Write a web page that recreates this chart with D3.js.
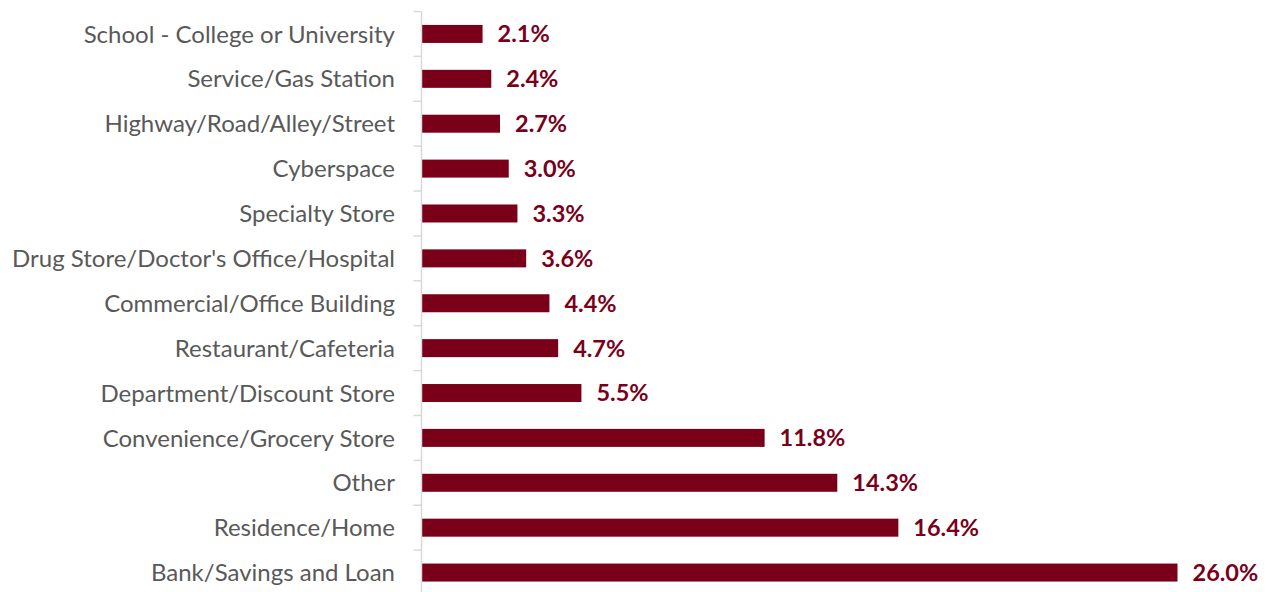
<!DOCTYPE html>
<html>
<head>
<meta charset="utf-8">
<script src="https://cdn.jsdelivr.net/npm/d3@7"></script>
<style>
  html, body { margin: 0; padding: 0; background: #fff; }
  svg { display: block; }
</style>
</head>
<body>
<svg id="chart" width="1267" height="592"></svg>
<script>
"use strict";

var categories = [
  "School - College or University",
  "Service/Gas Station",
  "Highway/Road/Alley/Street",
  "Cyberspace",
  "Specialty Store",
  "Drug Store/Doctor's Office/Hospital",
  "Commercial/Office Building",
  "Restaurant/Cafeteria",
  "Department/Discount Store",
  "Convenience/Grocery Store",
  "Other",
  "Residence/Home",
  "Bank/Savings and Loan"
];
var values = [2.1, 2.4, 2.7, 3.0, 3.3, 3.6, 4.4, 4.7, 5.5, 11.8, 14.3, 16.4, 26.0];

var BAR_COLOR = "#7a0019";
var TEXT_COLOR = "#595959";
var FONT = "Lato, 'Open Sans', sans-serif";
var AXIS_X = 421.5;

var svg = d3.select("#chart");

var y = d3.scaleBand()
  .domain(categories)
  .range([11.5, 595])
  .paddingInner(0)
  .paddingOuter(0);

var x = d3.scaleLinear()
  .domain([0, 26])
  .range([AXIS_X, 1177.5]);

var barHeight = 18;

// bars
svg.append("g")
  .selectAll("rect")
  .data(values)
  .enter()
  .append("rect")
  .attr("x", x(0))
  .attr("y", function (d, i) { return y(categories[i]) + y.bandwidth() / 2 - barHeight / 2; })
  .attr("width", function (d) { return x(d) - x(0); })
  .attr("height", barHeight)
  .attr("fill", BAR_COLOR);

// value labels
svg.append("g")
  .selectAll("text")
  .data(values)
  .enter()
  .append("text")
  .attr("x", function (d) { return x(d) + 15; })
  .attr("y", function (d, i) { return y(categories[i]) + y.bandwidth() / 2; })
  .attr("dy", "0.36em")
  .attr("fill", BAR_COLOR)
  .attr("font-family", FONT)
  .attr("font-weight", "bold")
  .attr("font-size", 23.5)
  .text(function (d) { return d.toFixed(1) + "%"; });

// category axis: line + ticks at band boundaries
var axis = svg.append("g");
axis.append("line")
  .attr("x1", AXIS_X).attr("x2", AXIS_X)
  .attr("y1", y.range()[0]).attr("y2", y.range()[1])
  .attr("stroke", "#d9d9d9")
  .attr("stroke-width", 1.5);

var boundaries = categories.map(function (c) { return y(c); });
boundaries.push(y.range()[1]);
axis.selectAll("line.tick")
  .data(boundaries)
  .enter()
  .append("line")
  .attr("class", "tick")
  .attr("x1", AXIS_X - 8).attr("x2", AXIS_X)
  .attr("y1", function (d) { return d; })
  .attr("y2", function (d) { return d; })
  .attr("stroke", "#d9d9d9")
  .attr("stroke-width", 1.5);

axis.selectAll("text")
  .data(categories)
  .enter()
  .append("text")
  .attr("x", 395)
  .attr("y", function (d) { return y(d) + y.bandwidth() / 2; })
  .attr("dy", "0.36em")
  .attr("text-anchor", "end")
  .attr("fill", TEXT_COLOR)
  .attr("font-family", FONT)
  .attr("font-size", 24)
  .text(function (d) { return d; });
</script>
</body>
</html>
